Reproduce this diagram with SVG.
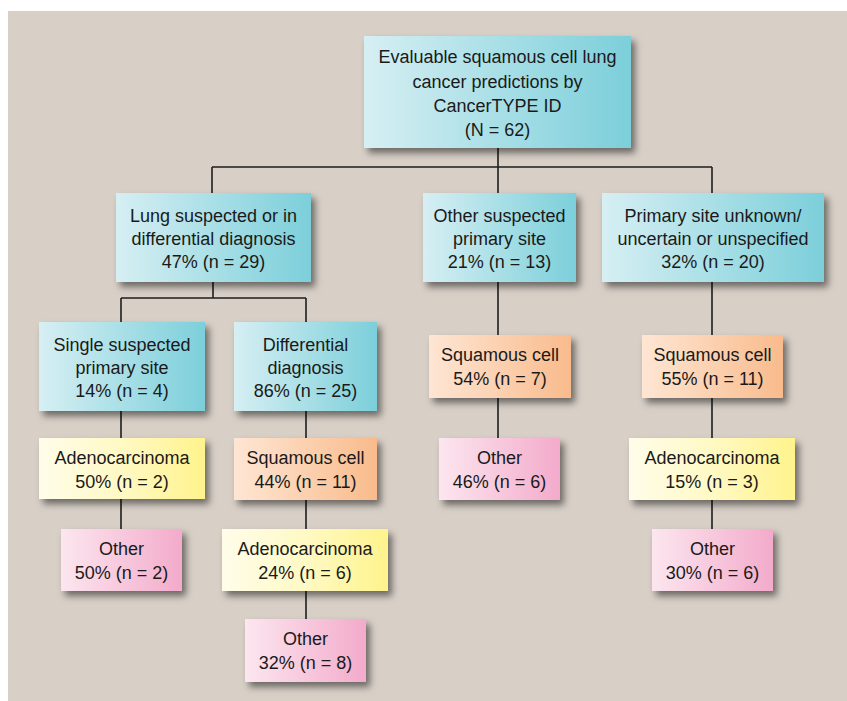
<svg xmlns="http://www.w3.org/2000/svg" width="847" height="701" viewBox="0 0 847 701">
<defs>
<linearGradient id="gBlue" x1="0" y1="0" x2="1" y2="0"><stop offset="0" stop-color="#d6eff3"/><stop offset="1" stop-color="#7ccfda"/></linearGradient>
<linearGradient id="gYellow" x1="0" y1="0" x2="1" y2="0"><stop offset="0" stop-color="#fffdea"/><stop offset="0.5" stop-color="#fff9c4"/><stop offset="1" stop-color="#fff38c"/></linearGradient>
<linearGradient id="gOrange" x1="0" y1="0" x2="1" y2="0"><stop offset="0" stop-color="#fee6d4"/><stop offset="1" stop-color="#f9bb8c"/></linearGradient>
<linearGradient id="gPink" x1="0" y1="0" x2="1" y2="0"><stop offset="0" stop-color="#fce6ef"/><stop offset="1" stop-color="#f3abcb"/></linearGradient>
<filter id="sh" x="-20%" y="-20%" width="150%" height="160%"><feDropShadow dx="4" dy="5" stdDeviation="3.5" flood-color="#000" flood-opacity="0.5"/></filter>
</defs>
<style>
text{font-family:"Liberation Sans",Arial,sans-serif;font-size:18px;fill:#1a1a1a;text-anchor:middle}
.b{fill:url(#gBlue);filter:url(#sh)}
.y{fill:url(#gYellow);filter:url(#sh)}
.o{fill:url(#gOrange);filter:url(#sh)}
.p{fill:url(#gPink);filter:url(#sh)}
.c{stroke:#1e1e1e;stroke-width:1.6;fill:none}
</style>
<rect x="0" y="0" width="847" height="701" fill="#ffffff"/>
<rect x="8" y="11" width="839" height="690" fill="#d8d0c7"/>
<g id="connectors" class="c">
<path d="M498 148V167M212 167H712M212 167V193M498 167V193M712 167V193"/>
<path d="M213 282V298M121 298H306M121 298V322M306 298V322"/>
<path d="M121 411V438M121 499V529"/>
<path d="M306 411V438M306 500V529M306 591V619"/>
<path d="M498 282V335M498 398V438"/>
<path d="M712 282V335M712 398V438M712 500V529"/>
</g>
<g id="n0"><rect class="b" x="364" y="36" width="267" height="112"/><text x="497.5" y="63">Evaluable squamous cell lung</text><text x="497.5" y="87.5">cancer predictions by</text><text x="497.5" y="112">CancerTYPE ID</text><text x="497.5" y="136">(N = 62)</text></g>
<g id="n1"><rect class="b" x="116" y="193" width="195" height="89"/><text x="213.5" y="222">Lung suspected or in</text><text x="213.5" y="245">differential diagnosis</text><text x="213.5" y="268">47% (n = 29)</text></g>
<g id="n2"><rect class="b" x="423" y="193" width="153" height="89"/><text x="499.5" y="222">Other suspected</text><text x="499.5" y="245">primary site</text><text x="499.5" y="268">21% (n = 13)</text></g>
<g id="n3"><rect class="b" x="602" y="193" width="222" height="89"/><text x="713" y="222">Primary site unknown/</text><text x="713" y="245">uncertain or unspecified</text><text x="713" y="268">32% (n = 20)</text></g>
<g id="n4"><rect class="b" x="39" y="322" width="166" height="89"/><text x="122" y="351">Single suspected</text><text x="122" y="374">primary site</text><text x="122" y="397">14% (n = 4)</text></g>
<g id="n5"><rect class="b" x="234" y="322" width="143" height="89"/><text x="305.5" y="351">Differential</text><text x="305.5" y="374">diagnosis</text><text x="305.5" y="397">86% (n = 25)</text></g>
<g id="n6"><rect class="o" x="429" y="335" width="142" height="63"/><text x="500" y="361">Squamous cell</text><text x="500" y="385">54% (n = 7)</text></g>
<g id="n7"><rect class="o" x="642" y="335" width="141" height="63"/><text x="712.5" y="361">Squamous cell</text><text x="712.5" y="385">55% (n = 11)</text></g>
<g id="n8"><rect class="y" x="39" y="438" width="166" height="61"/><text x="122" y="464">Adenocarcinoma</text><text x="122" y="488">50% (n = 2)</text></g>
<g id="n9"><rect class="o" x="234" y="438" width="143" height="62"/><text x="305.5" y="464">Squamous cell</text><text x="305.5" y="488">44% (n = 11)</text></g>
<g id="n10"><rect class="p" x="439" y="438" width="121" height="62"/><text x="499.5" y="464">Other</text><text x="499.5" y="488">46% (n = 6)</text></g>
<g id="n11"><rect class="y" x="629" y="438" width="166" height="62"/><text x="712" y="464">Adenocarcinoma</text><text x="712" y="488">15% (n = 3)</text></g>
<g id="n12"><rect class="p" x="61" y="529" width="121" height="62"/><text x="121.5" y="555">Other</text><text x="121.5" y="579">50% (n = 2)</text></g>
<g id="n13"><rect class="y" x="222" y="529" width="166" height="62"/><text x="305" y="555">Adenocarcinoma</text><text x="305" y="579">24% (n = 6)</text></g>
<g id="n14"><rect class="p" x="652" y="529" width="121" height="62"/><text x="712.5" y="555">Other</text><text x="712.5" y="579">30% (n = 6)</text></g>
<g id="n15"><rect class="p" x="245" y="619" width="121" height="63"/><text x="305.5" y="645">Other</text><text x="305.5" y="669">32% (n = 8)</text></g>
</svg>
